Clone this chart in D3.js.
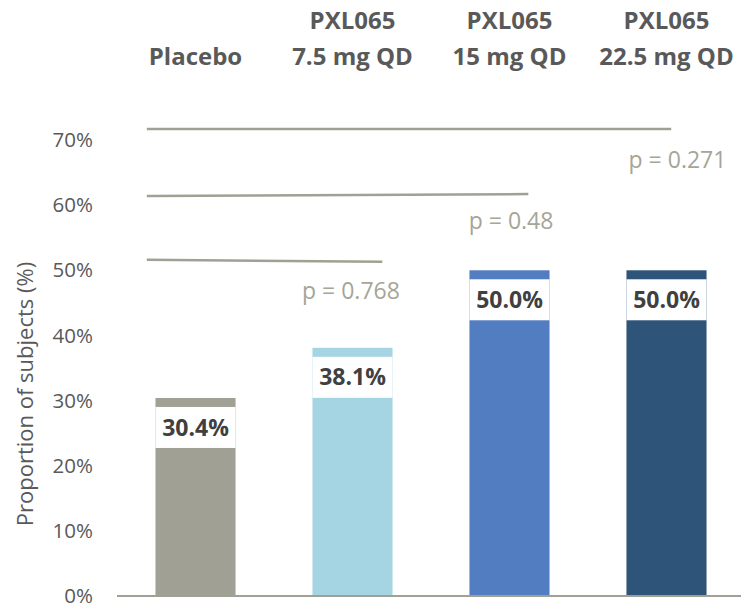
<!DOCTYPE html>
<html><head><meta charset="utf-8">
<script src="https://cdn.jsdelivr.net/npm/d3@7"></script>
<style>body{margin:0;background:#fff}svg{display:block}text{font-family:"Open Sans",sans-serif}</style>
</head><body><svg id="c" width="741" height="606"></svg>
<script>
const categories = ["Placebo", "PXL065 7.5 mg QD", "PXL065 15 mg QD", "PXL065 22.5 mg QD"];
const headerLine1 = ["", "PXL065", "PXL065", "PXL065"];
const headerLine2 = ["Placebo", "7.5 mg QD", "15 mg QD", "22.5 mg QD"];
const values = [30.4, 38.1, 50.0, 50.0];
const colors = ["#a0a094", "#a5d5e2", "#527dc1", "#2f5479"];
const yTicks = [0, 10, 20, 30, 40, 50, 60, 70];
// comparison brackets: start/end in category-index units, y in %
const cmpStart = [-0.31, -0.31, -0.31];
const cmpEnd = [1.19, 2.12, 3.03];
const cmpYLeft = [51.6, 61.4, 71.7];
const cmpYRight = [51.3, 61.7, 71.7];
const pLabels = ["p = 0.768", "p = 0.48", "p = 0.271"];
const pIndex = [0.99, 2.01, 3.07];
const pY = [46.8, 57.5, 67.0];

const svg = d3.select("#c");
const x = d3.scaleBand().domain(categories).range([117, 745]).paddingInner(0.49).paddingOuter(0.245);
const xi = d3.scaleLinear().domain([0, 1]).range([x(categories[0]) + x.bandwidth()/2, x(categories[1]) + x.bandwidth()/2]);
const y = d3.scaleLinear().domain([0, 70]).range([596, 140]);

// y tick labels
svg.append("g").selectAll("text").data(yTicks).join("text")
  .attr("x", 93).attr("y", d => y(d)).attr("dy", "0.35em")
  .attr("text-anchor", "end").attr("font-size", 20.5).attr("fill", "#595959")
  .text(d => d + "%");

svg.append("text").attr("transform", `translate(25,${y(31)}) rotate(-90)`)
  .attr("text-anchor", "middle").attr("dy", "0.35em").attr("font-size", 22).attr("fill", "#595959")
  .text("Proportion of subjects (%)");

// bars
svg.append("g").selectAll("rect").data(values).join("rect")
  .attr("x", (d, i) => x(categories[i])).attr("width", x.bandwidth())
  .attr("y", d => y(d)).attr("height", d => y(0) - y(d))
  .attr("fill", (d, i) => colors[i]);

// baseline
svg.append("line").attr("x1", 117).attr("x2", 741).attr("y1", y(0)).attr("y2", y(0))
  .attr("stroke", "#a0a094").attr("stroke-width", 2);

// value labels with white boxes
const lab = svg.append("g").selectAll("g").data(values).join("g");
lab.append("rect").attr("x", (d, i) => x(categories[i])).attr("width", x.bandwidth())
  .attr("y", d => y(d) + 9).attr("height", 41).attr("fill", "#fff");
lab.append("text").attr("x", (d, i) => x(categories[i]) + x.bandwidth()/2).attr("y", d => y(d) + 29.5)
  .attr("dy", "0.35em").attr("text-anchor", "middle").attr("font-size", 23).attr("font-weight", 700)
  .attr("fill", "#404040").text(d => d.toFixed(1) + "%");

// comparison lines
svg.append("g").selectAll("line").data(cmpEnd).join("line")
  .attr("x1", (d, i) => xi(cmpStart[i])).attr("x2", d => xi(d))
  .attr("y1", (d, i) => y(cmpYLeft[i])).attr("y2", (d, i) => y(cmpYRight[i]))
  .attr("stroke", "#a0a094").attr("stroke-width", 2.5);
svg.append("g").selectAll("text").data(pLabels).join("text")
  .attr("x", (d, i) => xi(pIndex[i])).attr("y", (d, i) => y(pY[i])).attr("dy", "0.35em")
  .attr("text-anchor", "middle").attr("font-size", 23).attr("fill", "#a5a598").text(d => d);

// headers
const hdr = svg.append("g");
hdr.selectAll("text.l1").data(headerLine1).join("text").attr("class", "l1")
  .attr("x", (d, i) => x(categories[i]) + x.bandwidth()/2).attr("y", 21).attr("dy", "0.35em")
  .attr("text-anchor", "middle").attr("font-size", 24).attr("font-weight", 700).attr("fill", "#595959").text(d => d);
hdr.selectAll("text.l2").data(headerLine2).join("text").attr("class", "l2")
  .attr("x", (d, i) => x(categories[i]) + x.bandwidth()/2).attr("y", 57).attr("dy", "0.35em")
  .attr("text-anchor", "middle").attr("font-size", 24).attr("font-weight", 700).attr("fill", "#595959").text(d => d);
</script></body></html>
